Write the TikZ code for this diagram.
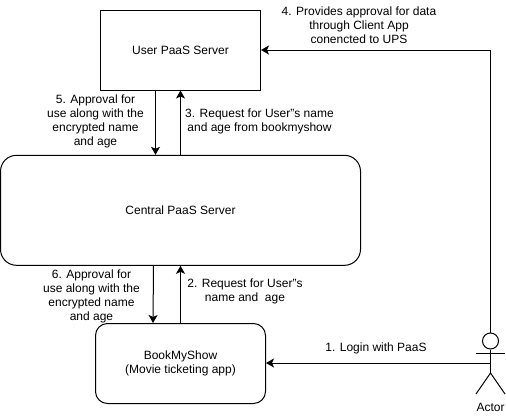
\documentclass[tikz,border=0pt]{standalone}
\usepackage{fontspec}
\setmainfont{Liberation Sans}
\usetikzlibrary{arrows.meta}
\tikzset{>={Stealth[width=9pt,length=8pt,inset=2pt]}}
\tikzset{
  srvbox/.style={draw,line width=1pt,align=center,inner sep=0pt},
  msglabel/.style={align=center,inner sep=0pt},
  link/.style={->,line width=1pt},
  limb/.style={line width=1pt}
}

\begin{document}
\begin{tikzpicture}[x=1pt,y=1pt]

  \fontsize{12}{14}\selectfont
  \useasboundingbox (0,0) rectangle (506,-415);

  % boxes
  \node[srvbox,minimum width=160pt,minimum height=80pt] (userbox) at (180.5,-50) {User PaaS Server};
  \node[srvbox,minimum width=360pt,minimum height=110pt,rounded corners=16pt] (central) at (180.5,-210.3) {Central PaaS Server};
  \node[srvbox,minimum width=170pt,minimum height=80pt,rounded corners=12pt] (bookapp) at (180.5,-363.5) {BookMyShow\ \\ (Movie ticketing app)};

  % actor
  \node[draw,circle,line width=1pt,minimum size=16pt,inner sep=0pt] (actorhead) at (490.5,-341) {};
  \coordinate (actorhip) at (490.5,-373);
  \coordinate (actorhand) at (490.5,-363);
  \coordinate (armL) at (476,-353);
  \coordinate (armR) at (505,-353);
  \coordinate (legL) at (476,-394);
  \coordinate (legR) at (505,-394);
  \coordinate (bend) at (490.5,-50);
  \draw[limb] (actorhead.south) -- (actorhip);
  \draw[limb] (armL) -- (armR);
  \draw[limb] (legL) -- (actorhip) -- (legR);
  \node[msglabel] (actorname) at (490.5,-407) {Actor};

  % arrows
  \draw[link] (actorhand) -- (actorhand -| bookapp.east); % 1
  \draw[link] (bookapp.north) -- (central.south); % 2
  \draw[link] (central.north) -- (userbox.south); % 3
  \draw[link] (actorhead.north) -- (bend) -- (userbox.east); % 4
  \draw[link] ([xshift=-25pt]userbox.south) -- ([xshift=-25pt]central.north); % 5
  \draw[link] ([xshift=-27pt]central.south) -- ([xshift=-27.5pt]bookapp.north); % 6

  % labels
  \node[msglabel] (msgone) at (376,-348) {1. Login with PaaS};
  \node[msglabel] (msgtwo) at (245,-291) {2. Request for User"s\\ name and\ \ age};
  \node[msglabel] (msgthree) at (259.5,-121) {3. Request for User"s name\\ and age from bookmyshow};
  \node[msglabel] (msgfour) at (359,-25) {4. Provides approval for data\\ through Client App\\ conencted to UPS};
  \node[msglabel] (msgfive) at (95.5,-121) {5. Approval for\\ use along with the\\ encrypted name\\ and age};
  \node[msglabel] (msgsix) at (91.5,-296) {6. Approval for\\ use along with the\\ encrypted name\\ and age};

\end{tikzpicture}
\end{document}
